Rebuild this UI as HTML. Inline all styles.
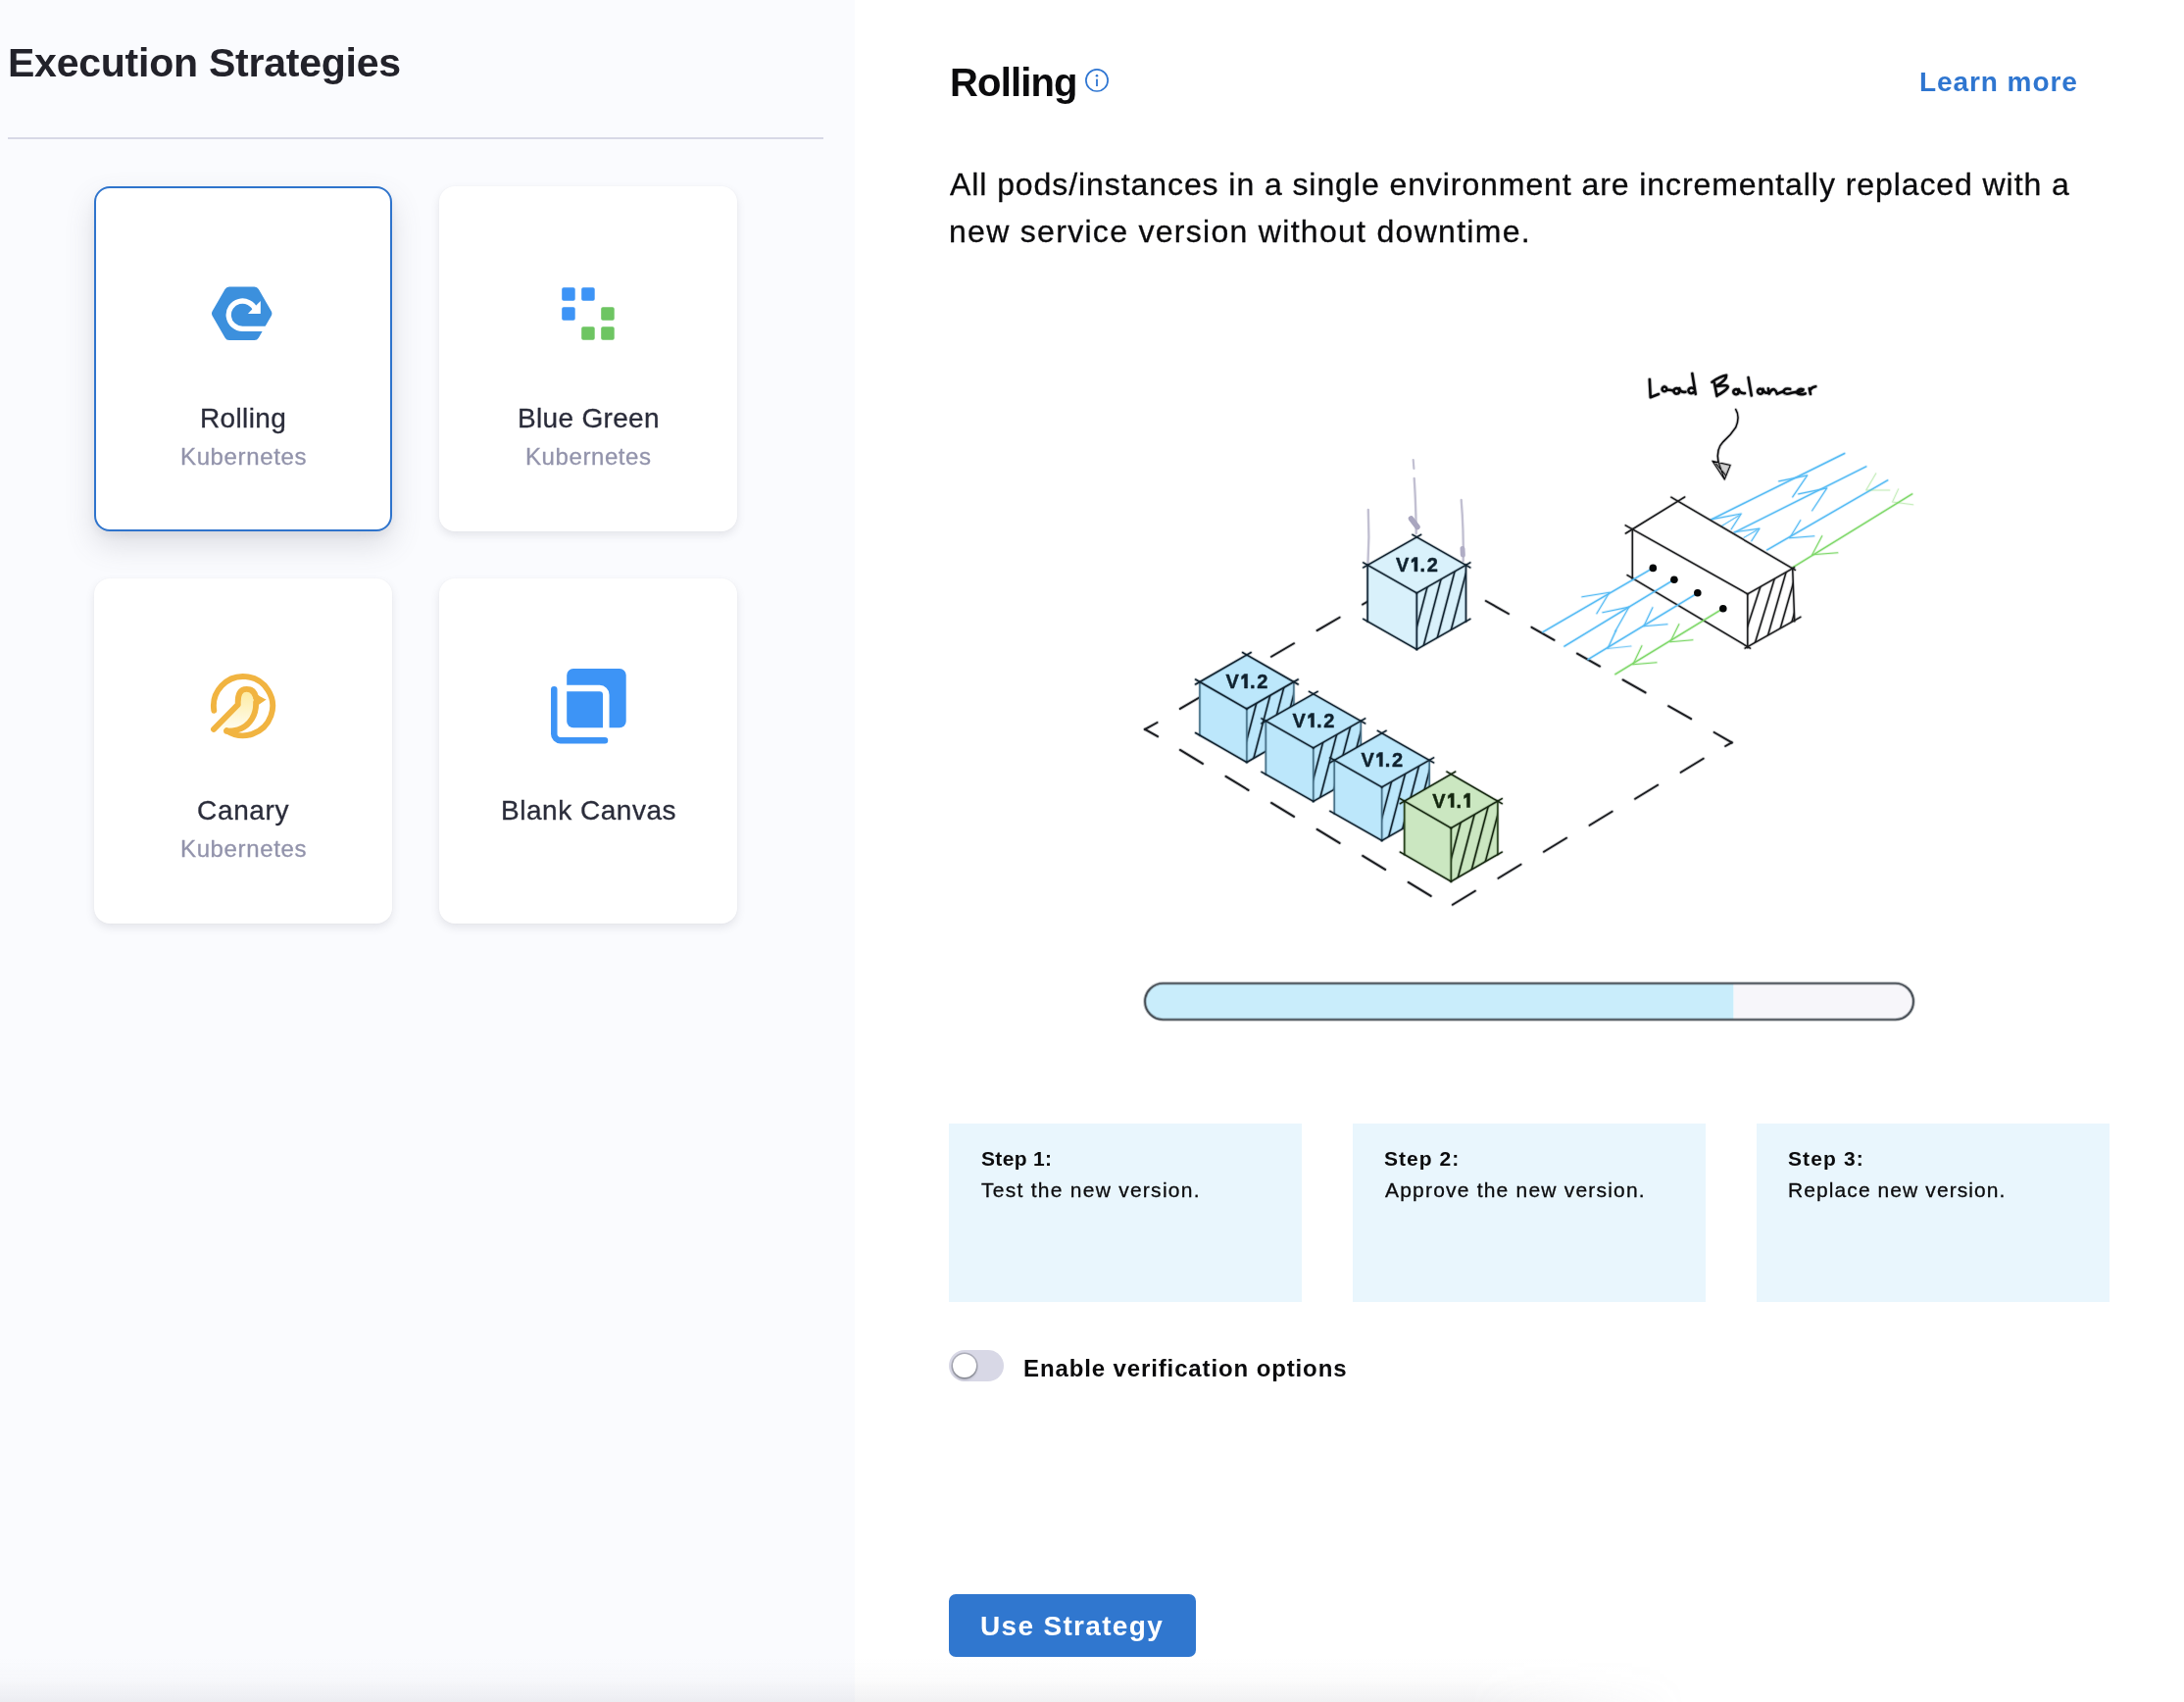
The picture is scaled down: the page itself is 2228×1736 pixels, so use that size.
<!DOCTYPE html>
<html lang="en"><head><meta charset="utf-8"><title>Execution Strategies</title>
<style>
html,body{margin:0;padding:0;}
body{width:2228px;height:1736px;position:relative;overflow:hidden;background:#ffffff;font-family:"Liberation Sans",sans-serif;}
.t{position:absolute;white-space:nowrap;font-family:"Liberation Sans",sans-serif;will-change:transform;}
.left{position:absolute;left:0;top:0;width:872px;height:1736px;background:#fafbfe;}
.hr{position:absolute;left:8px;top:140px;width:832px;height:2px;background:#d7d8e6;}
.card{position:absolute;width:304px;height:352px;background:#fff;border-radius:16px;box-sizing:border-box;
  box-shadow:0 0 2px rgba(40,41,61,.04),0 4px 8px rgba(96,97,112,.14);}
.card.sel{border:2px solid #2f74cc;box-shadow:0 4px 8px rgba(40,41,61,.05),0 14px 30px rgba(96,97,112,.19);}
.step{position:absolute;top:1146px;width:360px;height:182px;background:#e9f6fd;}
.toggle{position:absolute;left:968px;top:1377px;width:56px;height:32px;border-radius:16px;background:#d8d8e6;}
.knob{position:absolute;left:4px;top:4px;width:24px;height:24px;border-radius:50%;background:#fff;box-shadow:0 0 0 1.6px rgba(16,22,26,.22),0 2px 2.5px rgba(16,22,26,.28);}
.btn{position:absolute;left:968px;top:1626px;width:252px;height:64px;border-radius:7px;background:#3077cf;}
svg{position:absolute;left:0;top:0;}
.bot{position:absolute;left:0;top:1690px;width:2228px;height:46px;background:linear-gradient(to bottom,rgba(120,120,135,0) 0%,rgba(120,120,135,.025) 50%,rgba(120,120,135,.10) 100%);
  -webkit-mask-image:linear-gradient(to right,#000 0,#000 1500px,transparent 1720px);mask-image:linear-gradient(to right,#000 0,#000 1500px,transparent 1720px);}
</style></head><body>
<div class="left"></div>

<div class="t" style="left:7.70px;top:38.69px;font-size:41px;font-weight:700;color:#22222a;letter-spacing:-0.235px;line-height:51px;">Execution Strategies</div>
<div class="hr"></div>
<div class="card sel" style="left:96px;top:190px"></div>
<div class="card" style="left:448px;top:190px"></div>
<div class="card" style="left:96px;top:590px"></div>
<div class="card" style="left:448px;top:590px"></div>
<div class="t" style="left:204.00px;top:408.60px;font-size:28px;font-weight:400;color:#2a2c3a;letter-spacing:0.362px;line-height:35px;-webkit-text-stroke:0.3px currentColor;">Rolling</div>
<div class="t" style="left:183.70px;top:451.48px;font-size:24px;font-weight:400;color:#9293ab;letter-spacing:0.627px;line-height:30px;-webkit-text-stroke:0.3px currentColor;">Kubernetes</div>
<div class="t" style="left:527.80px;top:408.60px;font-size:28px;font-weight:400;color:#2a2c3a;letter-spacing:0.326px;line-height:35px;-webkit-text-stroke:0.3px currentColor;">Blue Green</div>
<div class="t" style="left:535.90px;top:451.48px;font-size:24px;font-weight:400;color:#9293ab;letter-spacing:0.583px;line-height:30px;-webkit-text-stroke:0.3px currentColor;">Kubernetes</div>
<div class="t" style="left:200.50px;top:808.80px;font-size:28px;font-weight:400;color:#2a2c3a;letter-spacing:0.668px;line-height:35px;-webkit-text-stroke:0.3px currentColor;">Canary</div>
<div class="t" style="left:183.70px;top:851.38px;font-size:24px;font-weight:400;color:#9293ab;letter-spacing:0.627px;line-height:30px;-webkit-text-stroke:0.3px currentColor;">Kubernetes</div>
<div class="t" style="left:510.60px;top:808.80px;font-size:28px;font-weight:400;color:#2a2c3a;letter-spacing:0.531px;line-height:35px;-webkit-text-stroke:0.3px currentColor;">Blank Canvas</div>
<div class="t" style="left:968.60px;top:58.84px;font-size:40px;font-weight:700;color:#0b0b0d;letter-spacing:-0.832px;line-height:50px;">Rolling</div>
<div class="t" style="left:1957.80px;top:66.40px;font-size:28px;font-weight:700;color:#2f76d0;letter-spacing:0.931px;line-height:35px;">Learn more</div>
<div class="t" style="left:968.70px;top:167.81px;font-size:32px;font-weight:400;color:#0b0b0d;letter-spacing:0.923px;line-height:40px;-webkit-text-stroke:0.3px currentColor;">All pods/instances in a single environment are incrementally replaced with a</div>
<div class="t" style="left:968.00px;top:215.61px;font-size:32px;font-weight:400;color:#0b0b0d;letter-spacing:1.297px;line-height:40px;-webkit-text-stroke:0.3px currentColor;">new service version without downtime.</div>
<div class="step" style="left:968px"></div>
<div class="t" style="left:1000.70px;top:1169.22px;font-size:21px;font-weight:700;color:#0b0b0d;letter-spacing:0.347px;line-height:26px;">Step 1:</div>
<div class="t" style="left:1001.20px;top:1201.32px;font-size:21px;font-weight:400;color:#0b0b0d;letter-spacing:1.263px;line-height:26px;-webkit-text-stroke:0.3px currentColor;">Test the new version.</div>
<div class="step" style="left:1380px"></div>
<div class="t" style="left:1412.10px;top:1169.22px;font-size:21px;font-weight:700;color:#0b0b0d;letter-spacing:1.047px;line-height:26px;">Step 2:</div>
<div class="t" style="left:1412.90px;top:1201.32px;font-size:21px;font-weight:400;color:#0b0b0d;letter-spacing:1.203px;line-height:26px;-webkit-text-stroke:0.3px currentColor;">Approve the new version.</div>
<div class="step" style="left:1792px"></div>
<div class="t" style="left:1823.90px;top:1169.22px;font-size:21px;font-weight:700;color:#0b0b0d;letter-spacing:1.113px;line-height:26px;">Step 3:</div>
<div class="t" style="left:1823.60px;top:1201.32px;font-size:21px;font-weight:400;color:#0b0b0d;letter-spacing:1.088px;line-height:26px;-webkit-text-stroke:0.3px currentColor;">Replace new version.</div>
<div class="toggle"><div class="knob"></div></div>
<div class="t" style="left:1043.80px;top:1380.68px;font-size:24px;font-weight:700;color:#0b0b0d;letter-spacing:0.878px;line-height:30px;">Enable verification options</div>
<div class="btn"></div>
<div class="t" style="left:1000.10px;top:1640.50px;font-size:28px;font-weight:700;color:#ffffff;letter-spacing:1.326px;line-height:35px;">Use Strategy</div>
<div class="bot"></div>
<svg width="2228" height="1736" viewBox="0 0 2228 1736">
<defs>
<linearGradient id="cg" x1="0" y1="0" x2="0" y2="1"><stop offset="0" stop-color="#fdeb9e"/><stop offset="1" stop-color="#fffdf3"/></linearGradient>
<filter id="soft" filterUnits="userSpaceOnUse" x="1100" y="340" width="920" height="640"><feGaussianBlur stdDeviation="0.8"/></filter>
<filter id="soft2" filterUnits="userSpaceOnUse" x="1150" y="990" width="820" height="64"><feGaussianBlur stdDeviation="0.8"/></filter>
</defs>
<polygon points="272.37,319.70 259.53,341.93 233.87,341.93 221.03,319.70 233.87,297.47 259.53,297.47" fill="#3c90dd" stroke="#3c90dd" stroke-width="10.0" stroke-linejoin="round"/>
<path d="M260.57,315.88 A14.2,14.2 0 1 0 247.40,335.40 H284" fill="none" stroke="#fff" stroke-width="5.3"/>
<polygon points="265.8,307.0 265.8,319.95 252.9,319.95" fill="#fff"/>
<rect x="573.2" y="293.2" width="13.5" height="13.5" rx="1.8" fill="#3d94f6"/>
<rect x="593.2" y="293.2" width="13.5" height="13.5" rx="1.8" fill="#3d94f6"/>
<rect x="573.2" y="313.2" width="13.5" height="13.5" rx="1.8" fill="#3d94f6"/>
<rect x="613.2" y="313.2" width="13.5" height="13.5" rx="1.8" fill="#6ec562"/>
<rect x="593.2" y="333.2" width="13.5" height="13.5" rx="1.8" fill="#6ec562"/>
<rect x="613.2" y="333.2" width="13.5" height="13.5" rx="1.8" fill="#6ec562"/>
<g transform="translate(190,670)" fill="none" stroke="#f1b441" stroke-width="5.9" stroke-linecap="round" stroke-linejoin="round">
<path d="M52.8,48.6 C52.2,38 55,32.9 61.7,32.9 C67,32.9 70.9,38 70.9,47 C71,58 66,70 52.9,74.2 C49,75.4 45,75.8 41.1,75.8 L28.0,73.9 Z" fill="url(#cg)" stroke="none"/>
<path d="M28.30,54.81 A30.1,30.1 0 1 1 41.37,75.17"/>
<path d="M28.0,73.9 L52.8,48.6 C52.2,38 55,32.9 61.7,32.9 C66.5,32.9 69.5,36 70.6,40"/>
<path d="M71.1,46.5 C71.6,58 66,70 52.9,74.2 C49,75.4 45,75.8 41.1,75.8"/>
<path d="M68.4,33.2 C71,38 75,40.5 81.7,43.5 L74.0,48.8 L68.2,43 Z" fill="#f1b441" stroke="none"/>
</g>
<g transform="translate(540,670)">
<rect x="38.2" y="12.05" width="60.5" height="60.25" rx="6.6" fill="#3d94f6"/>
<path d="M36,32.05 H71.7 a6.6,6.6 0 0 1 6.6,6.6 V74" fill="none" stroke="#fff" stroke-width="6.5"/>
<path d="M25.27,33.2 V78.7 a6.5,6.5 0 0 0 6.5,6.5 H77" fill="none" stroke="#3d94f6" stroke-width="6.5" stroke-linecap="round"/>
</g>
<circle cx="1119" cy="81.9" r="11.1" fill="none" stroke="#2f76d2" stroke-width="1.7"/>
<circle cx="1119" cy="77.3" r="1.3" fill="#2f76d2"/>
<rect x="1118.1" y="80.6" width="1.8" height="7.4" fill="#2f76d2"/>
<g stroke-linecap="round" stroke-linejoin="round">
<line x1="1515.9" y1="613.0" x2="1538.9" y2="626.0" stroke="#1a1c20" stroke-width="3.60" opacity="0.200"/>
<line x1="1515.9" y1="613.0" x2="1538.9" y2="626.0" stroke="#1a1c20" stroke-width="1.90" opacity="1"/>
<line x1="1562.5" y1="639.8" x2="1585.5" y2="652.8" stroke="#1a1c20" stroke-width="3.60" opacity="0.200"/>
<line x1="1562.5" y1="639.8" x2="1585.5" y2="652.8" stroke="#1a1c20" stroke-width="1.90" opacity="1"/>
<line x1="1609.0" y1="666.6" x2="1632.0" y2="679.6" stroke="#1a1c20" stroke-width="3.60" opacity="0.200"/>
<line x1="1609.0" y1="666.6" x2="1632.0" y2="679.6" stroke="#1a1c20" stroke-width="1.90" opacity="1"/>
<line x1="1655.6" y1="693.4" x2="1678.6" y2="706.4" stroke="#1a1c20" stroke-width="3.60" opacity="0.200"/>
<line x1="1655.6" y1="693.4" x2="1678.6" y2="706.4" stroke="#1a1c20" stroke-width="1.90" opacity="1"/>
<line x1="1702.1" y1="720.2" x2="1725.1" y2="733.2" stroke="#1a1c20" stroke-width="3.60" opacity="0.200"/>
<line x1="1702.1" y1="720.2" x2="1725.1" y2="733.2" stroke="#1a1c20" stroke-width="1.90" opacity="1"/>
<line x1="1748.7" y1="747.0" x2="1766.7" y2="757.4" stroke="#1a1c20" stroke-width="3.60" opacity="0.200"/>
<line x1="1748.7" y1="747.0" x2="1766.7" y2="757.4" stroke="#1a1c20" stroke-width="1.90" opacity="1"/>
<line x1="1766.7" y1="757.4" x2="1760.2" y2="761.0" stroke="#1a1c20" stroke-width="3.60" opacity="0.200"/>
<line x1="1766.7" y1="757.4" x2="1760.2" y2="761.0" stroke="#1a1c20" stroke-width="1.90" opacity="1"/>
<line x1="1737.7" y1="773.8" x2="1714.7" y2="787.8" stroke="#1a1c20" stroke-width="3.60" opacity="0.200"/>
<line x1="1737.7" y1="773.8" x2="1714.7" y2="787.8" stroke="#1a1c20" stroke-width="1.90" opacity="1"/>
<line x1="1691.1" y1="800.8" x2="1668.1" y2="814.8" stroke="#1a1c20" stroke-width="3.60" opacity="0.200"/>
<line x1="1691.1" y1="800.8" x2="1668.1" y2="814.8" stroke="#1a1c20" stroke-width="1.90" opacity="1"/>
<line x1="1644.6" y1="827.8" x2="1621.6" y2="841.8" stroke="#1a1c20" stroke-width="3.60" opacity="0.200"/>
<line x1="1644.6" y1="827.8" x2="1621.6" y2="841.8" stroke="#1a1c20" stroke-width="1.90" opacity="1"/>
<line x1="1598.0" y1="854.8" x2="1575.0" y2="868.8" stroke="#1a1c20" stroke-width="3.60" opacity="0.200"/>
<line x1="1598.0" y1="854.8" x2="1575.0" y2="868.8" stroke="#1a1c20" stroke-width="1.90" opacity="1"/>
<line x1="1551.5" y1="881.8" x2="1528.5" y2="895.8" stroke="#1a1c20" stroke-width="3.60" opacity="0.200"/>
<line x1="1551.5" y1="881.8" x2="1528.5" y2="895.8" stroke="#1a1c20" stroke-width="1.90" opacity="1"/>
<line x1="1504.9" y1="908.8" x2="1481.9" y2="922.8" stroke="#1a1c20" stroke-width="3.60" opacity="0.200"/>
<line x1="1504.9" y1="908.8" x2="1481.9" y2="922.8" stroke="#1a1c20" stroke-width="1.90" opacity="1"/>
<line x1="1203.9" y1="764.9" x2="1226.9" y2="778.9" stroke="#1a1c20" stroke-width="3.60" opacity="0.200"/>
<line x1="1203.9" y1="764.9" x2="1226.9" y2="778.9" stroke="#1a1c20" stroke-width="1.90" opacity="1"/>
<line x1="1250.5" y1="791.9" x2="1273.5" y2="805.9" stroke="#1a1c20" stroke-width="3.60" opacity="0.200"/>
<line x1="1250.5" y1="791.9" x2="1273.5" y2="805.9" stroke="#1a1c20" stroke-width="1.90" opacity="1"/>
<line x1="1297.0" y1="818.9" x2="1320.0" y2="832.9" stroke="#1a1c20" stroke-width="3.60" opacity="0.200"/>
<line x1="1297.0" y1="818.9" x2="1320.0" y2="832.9" stroke="#1a1c20" stroke-width="1.90" opacity="1"/>
<line x1="1343.6" y1="845.9" x2="1366.6" y2="859.9" stroke="#1a1c20" stroke-width="3.60" opacity="0.200"/>
<line x1="1343.6" y1="845.9" x2="1366.6" y2="859.9" stroke="#1a1c20" stroke-width="1.90" opacity="1"/>
<line x1="1390.1" y1="872.9" x2="1413.1" y2="886.9" stroke="#1a1c20" stroke-width="3.60" opacity="0.200"/>
<line x1="1390.1" y1="872.9" x2="1413.1" y2="886.9" stroke="#1a1c20" stroke-width="1.90" opacity="1"/>
<line x1="1436.7" y1="899.9" x2="1459.7" y2="913.9" stroke="#1a1c20" stroke-width="3.60" opacity="0.200"/>
<line x1="1436.7" y1="899.9" x2="1459.7" y2="913.9" stroke="#1a1c20" stroke-width="1.90" opacity="1"/>
<line x1="1203.9" y1="722.9" x2="1226.9" y2="709.5" stroke="#1a1c20" stroke-width="3.60" opacity="0.200"/>
<line x1="1203.9" y1="722.9" x2="1226.9" y2="709.5" stroke="#1a1c20" stroke-width="1.90" opacity="1"/>
<line x1="1250.5" y1="696.3" x2="1273.5" y2="682.9" stroke="#1a1c20" stroke-width="3.60" opacity="0.200"/>
<line x1="1250.5" y1="696.3" x2="1273.5" y2="682.9" stroke="#1a1c20" stroke-width="1.90" opacity="1"/>
<line x1="1297.0" y1="669.7" x2="1320.0" y2="656.3" stroke="#1a1c20" stroke-width="3.60" opacity="0.200"/>
<line x1="1297.0" y1="669.7" x2="1320.0" y2="656.3" stroke="#1a1c20" stroke-width="1.90" opacity="1"/>
<line x1="1343.6" y1="643.1" x2="1366.6" y2="629.7" stroke="#1a1c20" stroke-width="3.60" opacity="0.200"/>
<line x1="1343.6" y1="643.1" x2="1366.6" y2="629.7" stroke="#1a1c20" stroke-width="1.90" opacity="1"/>
<line x1="1390.1" y1="616.5" x2="1413.1" y2="603.1" stroke="#1a1c20" stroke-width="3.60" opacity="0.200"/>
<line x1="1390.1" y1="616.5" x2="1413.1" y2="603.1" stroke="#1a1c20" stroke-width="1.90" opacity="1"/>
<line x1="1168.0" y1="743.9" x2="1180.5" y2="737.0" stroke="#1a1c20" stroke-width="3.60" opacity="0.200"/>
<line x1="1168.0" y1="743.9" x2="1180.5" y2="737.0" stroke="#1a1c20" stroke-width="1.90" opacity="1"/>
<line x1="1168.0" y1="743.9" x2="1181.0" y2="751.2" stroke="#1a1c20" stroke-width="3.60" opacity="0.200"/>
<line x1="1168.0" y1="743.9" x2="1181.0" y2="751.2" stroke="#1a1c20" stroke-width="1.90" opacity="1"/>
<line x1="1745.8" y1="529.8" x2="1881.7" y2="462.5" stroke="#55bbf4" stroke-width="3.15" opacity="0.200"/>
<line x1="1745.8" y1="529.8" x2="1881.7" y2="462.5" stroke="#55bbf4" stroke-width="1.45" opacity="1"/>
<polyline points="1814.7,490.9 1843.7,484.9 1828.7,506.9" fill="none" stroke="#55bbf4" stroke-width="2.80" opacity="0.200"/>
<polyline points="1814.7,490.9 1843.7,484.9 1828.7,506.9" fill="none" stroke="#55bbf4" stroke-width="1.10" opacity="1"/>
<polyline points="1746.5,529.6 1776.3,524.0 1766.2,539.7" fill="none" stroke="#55bbf4" stroke-width="2.80" opacity="0.200"/>
<polyline points="1746.5,529.6 1776.3,524.0 1766.2,539.7" fill="none" stroke="#55bbf4" stroke-width="1.10" opacity="1"/>
<polyline points="1756.2,536.6 1774.5,525.5 1756.2,536.6" fill="none" stroke="#55bbf4" stroke-width="2.55" opacity="0.160"/>
<polyline points="1756.2,536.6 1774.5,525.5 1756.2,536.6" fill="none" stroke="#55bbf4" stroke-width="0.85" opacity="0.8"/>
<line x1="1769.8" y1="542.8" x2="1903.7" y2="475.9" stroke="#55bbf4" stroke-width="3.15" opacity="0.200"/>
<line x1="1769.8" y1="542.8" x2="1903.7" y2="475.9" stroke="#55bbf4" stroke-width="1.45" opacity="1"/>
<polyline points="1834.7,503.9 1863.7,497.9 1848.7,520.8" fill="none" stroke="#55bbf4" stroke-width="2.80" opacity="0.200"/>
<polyline points="1834.7,503.9 1863.7,497.9 1848.7,520.8" fill="none" stroke="#55bbf4" stroke-width="1.10" opacity="1"/>
<polyline points="1769.2,542.7 1794.9,539.1 1786.8,551.7" fill="none" stroke="#55bbf4" stroke-width="2.80" opacity="0.200"/>
<polyline points="1769.2,542.7 1794.9,539.1 1786.8,551.7" fill="none" stroke="#55bbf4" stroke-width="1.10" opacity="1"/>
<polyline points="1779.3,548.2 1792.5,540.6 1779.3,548.2" fill="none" stroke="#55bbf4" stroke-width="2.55" opacity="0.160"/>
<polyline points="1779.3,548.2 1792.5,540.6 1779.3,548.2" fill="none" stroke="#55bbf4" stroke-width="0.85" opacity="0.8"/>
<line x1="1802.8" y1="560.8" x2="1925.6" y2="489.9" stroke="#55bbf4" stroke-width="3.15" opacity="0.200"/>
<line x1="1802.8" y1="560.8" x2="1925.6" y2="489.9" stroke="#55bbf4" stroke-width="1.45" opacity="1"/>
<polyline points="1836.7,530.8 1825.7,548.8 1850.7,546.8" fill="none" stroke="#55bbf4" stroke-width="2.80" opacity="0.200"/>
<polyline points="1836.7,530.8 1825.7,548.8 1850.7,546.8" fill="none" stroke="#55bbf4" stroke-width="1.10" opacity="1"/>
<line x1="1828.7" y1="578.8" x2="1950.6" y2="503.9" stroke="#7fd86a" stroke-width="3.15" opacity="0.200"/>
<line x1="1828.7" y1="578.8" x2="1950.6" y2="503.9" stroke="#7fd86a" stroke-width="1.45" opacity="1"/>
<polyline points="1858.7,546.8 1848.7,565.8 1874.7,563.8" fill="none" stroke="#7fd86a" stroke-width="2.80" opacity="0.200"/>
<polyline points="1858.7,546.8 1848.7,565.8 1874.7,563.8" fill="none" stroke="#7fd86a" stroke-width="1.10" opacity="1"/>
<polyline points="1913.7,482.9 1903.7,499.9 1927.6,499.9" fill="none" stroke="#7fd86a" stroke-width="2.75" opacity="0.080"/>
<polyline points="1913.7,482.9 1903.7,499.9 1927.6,499.9" fill="none" stroke="#7fd86a" stroke-width="1.05" opacity="0.4"/>
<polyline points="1936.6,498.9 1930.6,511.9 1951.6,514.8" fill="none" stroke="#7fd86a" stroke-width="2.75" opacity="0.080"/>
<polyline points="1936.6,498.9 1930.6,511.9 1951.6,514.8" fill="none" stroke="#7fd86a" stroke-width="1.05" opacity="0.4"/>
<path d="M1395.8,520 Q1397.2,548 1395.4,576" fill="none" stroke="#c2c0d2" stroke-width="2.4"/>
<path d="M1442.7,488 Q1444.5,515 1444.7,544" fill="none" stroke="#c2c0d2" stroke-width="2.4"/>
<path d="M1441.7,469 L1442.4,478" fill="none" stroke="#c2c0d2" stroke-width="2.2"/>
<path d="M1439.5,529 L1446,537.5" fill="none" stroke="#a9a6bf" stroke-width="5.5"/>
<path d="M1490.7,510 Q1493.2,540 1492.7,572" fill="none" stroke="#c2c0d2" stroke-width="2.4"/>
<path d="M1492,559.5 L1492.3,566" fill="none" stroke="#b0adc5" stroke-width="5"/>
<polygon points="1445.3,547.9 1495.5,576.4 1495.5,633.9 1445.3,662.4 1395.1,633.9 1395.1,576.4" fill="#d9f1fb" stroke="none"/>
<clipPath id="cf"><polygon points="1445.3,604.9 1495.5,576.4 1495.5,633.9 1445.3,662.4"/></clipPath>
<g clip-path="url(#cf)">
<line x1="1437.0" y1="671.4" x2="1463.2" y2="571.4" stroke="#10222f" stroke-width="3.20" opacity="0.200"/>
<line x1="1437.0" y1="671.4" x2="1463.2" y2="571.4" stroke="#10222f" stroke-width="1.50" opacity="1"/>
<line x1="1451.0" y1="663.4" x2="1477.2" y2="563.4" stroke="#10222f" stroke-width="3.20" opacity="0.200"/>
<line x1="1451.0" y1="663.4" x2="1477.2" y2="563.4" stroke="#10222f" stroke-width="1.50" opacity="1"/>
<line x1="1465.0" y1="655.5" x2="1491.2" y2="555.5" stroke="#10222f" stroke-width="3.20" opacity="0.200"/>
<line x1="1465.0" y1="655.5" x2="1491.2" y2="555.5" stroke="#10222f" stroke-width="1.50" opacity="1"/>
<line x1="1479.0" y1="647.5" x2="1505.2" y2="547.5" stroke="#10222f" stroke-width="3.20" opacity="0.200"/>
<line x1="1479.0" y1="647.5" x2="1505.2" y2="547.5" stroke="#10222f" stroke-width="1.50" opacity="1"/>
</g>
<line x1="1395.1" y1="576.4" x2="1395.1" y2="633.9" stroke="#15293a" stroke-width="3.30" opacity="0.200"/>
<line x1="1395.1" y1="576.4" x2="1395.1" y2="633.9" stroke="#15293a" stroke-width="1.60" opacity="1"/>
<line x1="1445.3" y1="604.9" x2="1445.3" y2="662.4" stroke="#15293a" stroke-width="3.30" opacity="0.200"/>
<line x1="1445.3" y1="604.9" x2="1445.3" y2="662.4" stroke="#15293a" stroke-width="1.60" opacity="1"/>
<line x1="1495.5" y1="576.4" x2="1495.5" y2="633.9" stroke="#15293a" stroke-width="3.30" opacity="0.200"/>
<line x1="1495.5" y1="576.4" x2="1495.5" y2="633.9" stroke="#15293a" stroke-width="1.60" opacity="1"/>
<line x1="1441.0" y1="545.4" x2="1499.8" y2="578.9" stroke="#10222f" stroke-width="3.20" opacity="0.200"/>
<line x1="1441.0" y1="545.4" x2="1499.8" y2="578.9" stroke="#10222f" stroke-width="1.50" opacity="1"/>
<line x1="1499.8" y1="573.9" x2="1445.3" y2="604.9" stroke="#10222f" stroke-width="3.20" opacity="0.200"/>
<line x1="1499.8" y1="573.9" x2="1445.3" y2="604.9" stroke="#10222f" stroke-width="1.50" opacity="1"/>
<line x1="1445.3" y1="604.9" x2="1390.8" y2="573.9" stroke="#10222f" stroke-width="3.20" opacity="0.200"/>
<line x1="1445.3" y1="604.9" x2="1390.8" y2="573.9" stroke="#10222f" stroke-width="1.50" opacity="1"/>
<line x1="1390.8" y1="578.9" x2="1449.6" y2="545.4" stroke="#10222f" stroke-width="3.20" opacity="0.200"/>
<line x1="1390.8" y1="578.9" x2="1449.6" y2="545.4" stroke="#10222f" stroke-width="1.50" opacity="1"/>
<line x1="1390.8" y1="631.4" x2="1445.3" y2="662.4" stroke="#10222f" stroke-width="3.20" opacity="0.200"/>
<line x1="1390.8" y1="631.4" x2="1445.3" y2="662.4" stroke="#10222f" stroke-width="1.50" opacity="1"/>
<line x1="1445.3" y1="662.4" x2="1499.8" y2="631.4" stroke="#10222f" stroke-width="3.20" opacity="0.200"/>
<line x1="1445.3" y1="662.4" x2="1499.8" y2="631.4" stroke="#10222f" stroke-width="1.50" opacity="1"/>
<text x="1424.00" y="582.80" font-family='"Liberation Sans", sans-serif' font-size="20" font-weight="700" fill="#10222f" stroke="#10222f" stroke-width="0.45">V</text>
<polygon points="1443.00,568.50 1446.00,568.50 1446.00,582.80 1442.90,582.80 1442.90,572.20 1440.00,573.90 1440.00,571.00" fill="#10222f" stroke="#10222f" stroke-width="0.45"/>
<text x="1448.40" y="582.80" font-family='"Liberation Sans", sans-serif' font-size="20" font-weight="700" fill="#10222f" stroke="#10222f" stroke-width="0.45">.</text>
<text x="1455.70" y="582.80" font-family='"Liberation Sans", sans-serif' font-size="20" font-weight="700" fill="#10222f" stroke="#10222f" stroke-width="0.45">2</text>
<polygon points="1271.9,668.0 1319.9,695.5 1319.9,750.0 1271.9,777.5 1223.9,750.0 1223.9,695.5" fill="#bce7fb" stroke="none"/>
<clipPath id="c1"><polygon points="1271.9,723.0 1319.9,695.5 1319.9,750.0 1271.9,777.5"/></clipPath>
<g clip-path="url(#c1)">
<line x1="1263.6" y1="786.5" x2="1289.8" y2="686.5" stroke="#10222f" stroke-width="3.20" opacity="0.200"/>
<line x1="1263.6" y1="786.5" x2="1289.8" y2="686.5" stroke="#10222f" stroke-width="1.50" opacity="1"/>
<line x1="1277.6" y1="778.5" x2="1303.8" y2="678.5" stroke="#10222f" stroke-width="3.20" opacity="0.200"/>
<line x1="1277.6" y1="778.5" x2="1303.8" y2="678.5" stroke="#10222f" stroke-width="1.50" opacity="1"/>
<line x1="1291.6" y1="770.5" x2="1317.8" y2="670.5" stroke="#10222f" stroke-width="3.20" opacity="0.200"/>
<line x1="1291.6" y1="770.5" x2="1317.8" y2="670.5" stroke="#10222f" stroke-width="1.50" opacity="1"/>
<line x1="1305.6" y1="762.4" x2="1331.8" y2="662.4" stroke="#10222f" stroke-width="3.20" opacity="0.200"/>
<line x1="1305.6" y1="762.4" x2="1331.8" y2="662.4" stroke="#10222f" stroke-width="1.50" opacity="1"/>
</g>
<line x1="1223.9" y1="695.5" x2="1223.9" y2="750.0" stroke="#4a748b" stroke-width="3.30" opacity="0.200"/>
<line x1="1223.9" y1="695.5" x2="1223.9" y2="750.0" stroke="#4a748b" stroke-width="1.60" opacity="1"/>
<line x1="1271.9" y1="723.0" x2="1271.9" y2="777.5" stroke="#4a748b" stroke-width="3.30" opacity="0.200"/>
<line x1="1271.9" y1="723.0" x2="1271.9" y2="777.5" stroke="#4a748b" stroke-width="1.60" opacity="1"/>
<line x1="1319.9" y1="695.5" x2="1319.9" y2="750.0" stroke="#4a748b" stroke-width="3.30" opacity="0.200"/>
<line x1="1319.9" y1="695.5" x2="1319.9" y2="750.0" stroke="#4a748b" stroke-width="1.60" opacity="1"/>
<line x1="1267.6" y1="665.5" x2="1324.2" y2="698.0" stroke="#10222f" stroke-width="3.20" opacity="0.200"/>
<line x1="1267.6" y1="665.5" x2="1324.2" y2="698.0" stroke="#10222f" stroke-width="1.50" opacity="1"/>
<line x1="1324.2" y1="693.0" x2="1271.9" y2="723.0" stroke="#10222f" stroke-width="3.20" opacity="0.200"/>
<line x1="1324.2" y1="693.0" x2="1271.9" y2="723.0" stroke="#10222f" stroke-width="1.50" opacity="1"/>
<line x1="1271.9" y1="723.0" x2="1219.6" y2="693.0" stroke="#10222f" stroke-width="3.20" opacity="0.200"/>
<line x1="1271.9" y1="723.0" x2="1219.6" y2="693.0" stroke="#10222f" stroke-width="1.50" opacity="1"/>
<line x1="1219.6" y1="698.0" x2="1276.2" y2="665.5" stroke="#10222f" stroke-width="3.20" opacity="0.200"/>
<line x1="1219.6" y1="698.0" x2="1276.2" y2="665.5" stroke="#10222f" stroke-width="1.50" opacity="1"/>
<line x1="1219.6" y1="747.5" x2="1271.9" y2="777.5" stroke="#10222f" stroke-width="3.20" opacity="0.200"/>
<line x1="1219.6" y1="747.5" x2="1271.9" y2="777.5" stroke="#10222f" stroke-width="1.50" opacity="1"/>
<line x1="1271.9" y1="777.5" x2="1324.2" y2="747.5" stroke="#10222f" stroke-width="3.20" opacity="0.200"/>
<line x1="1271.9" y1="777.5" x2="1324.2" y2="747.5" stroke="#10222f" stroke-width="1.50" opacity="1"/>
<text x="1250.60" y="701.90" font-family='"Liberation Sans", sans-serif' font-size="20" font-weight="700" fill="#10222f" stroke="#10222f" stroke-width="0.45">V</text>
<polygon points="1269.60,687.60 1272.60,687.60 1272.60,701.90 1269.50,701.90 1269.50,691.30 1266.60,693.00 1266.60,690.10" fill="#10222f" stroke="#10222f" stroke-width="0.45"/>
<text x="1275.00" y="701.90" font-family='"Liberation Sans", sans-serif' font-size="20" font-weight="700" fill="#10222f" stroke="#10222f" stroke-width="0.45">.</text>
<text x="1282.30" y="701.90" font-family='"Liberation Sans", sans-serif' font-size="20" font-weight="700" fill="#10222f" stroke="#10222f" stroke-width="0.45">2</text>
<polygon points="1339.8,707.9 1388.3,735.4 1388.3,789.9 1339.8,817.4 1291.3,789.9 1291.3,735.4" fill="#bce7fb" stroke="none"/>
<clipPath id="c2"><polygon points="1339.8,762.9 1388.3,735.4 1388.3,789.9 1339.8,817.4"/></clipPath>
<g clip-path="url(#c2)">
<line x1="1331.5" y1="826.4" x2="1357.7" y2="726.4" stroke="#10222f" stroke-width="3.20" opacity="0.200"/>
<line x1="1331.5" y1="826.4" x2="1357.7" y2="726.4" stroke="#10222f" stroke-width="1.50" opacity="1"/>
<line x1="1345.5" y1="818.4" x2="1371.7" y2="718.4" stroke="#10222f" stroke-width="3.20" opacity="0.200"/>
<line x1="1345.5" y1="818.4" x2="1371.7" y2="718.4" stroke="#10222f" stroke-width="1.50" opacity="1"/>
<line x1="1359.5" y1="810.5" x2="1385.7" y2="710.5" stroke="#10222f" stroke-width="3.20" opacity="0.200"/>
<line x1="1359.5" y1="810.5" x2="1385.7" y2="710.5" stroke="#10222f" stroke-width="1.50" opacity="1"/>
<line x1="1373.5" y1="802.6" x2="1399.7" y2="702.6" stroke="#10222f" stroke-width="3.20" opacity="0.200"/>
<line x1="1373.5" y1="802.6" x2="1399.7" y2="702.6" stroke="#10222f" stroke-width="1.50" opacity="1"/>
</g>
<line x1="1291.3" y1="735.4" x2="1291.3" y2="789.9" stroke="#4a748b" stroke-width="3.30" opacity="0.200"/>
<line x1="1291.3" y1="735.4" x2="1291.3" y2="789.9" stroke="#4a748b" stroke-width="1.60" opacity="1"/>
<line x1="1339.8" y1="762.9" x2="1339.8" y2="817.4" stroke="#4a748b" stroke-width="3.30" opacity="0.200"/>
<line x1="1339.8" y1="762.9" x2="1339.8" y2="817.4" stroke="#4a748b" stroke-width="1.60" opacity="1"/>
<line x1="1388.3" y1="735.4" x2="1388.3" y2="789.9" stroke="#4a748b" stroke-width="3.30" opacity="0.200"/>
<line x1="1388.3" y1="735.4" x2="1388.3" y2="789.9" stroke="#4a748b" stroke-width="1.60" opacity="1"/>
<line x1="1335.5" y1="705.4" x2="1392.6" y2="737.9" stroke="#10222f" stroke-width="3.20" opacity="0.200"/>
<line x1="1335.5" y1="705.4" x2="1392.6" y2="737.9" stroke="#10222f" stroke-width="1.50" opacity="1"/>
<line x1="1392.6" y1="732.9" x2="1339.8" y2="762.9" stroke="#10222f" stroke-width="3.20" opacity="0.200"/>
<line x1="1392.6" y1="732.9" x2="1339.8" y2="762.9" stroke="#10222f" stroke-width="1.50" opacity="1"/>
<line x1="1339.8" y1="762.9" x2="1287.0" y2="732.9" stroke="#10222f" stroke-width="3.20" opacity="0.200"/>
<line x1="1339.8" y1="762.9" x2="1287.0" y2="732.9" stroke="#10222f" stroke-width="1.50" opacity="1"/>
<line x1="1287.0" y1="737.9" x2="1344.1" y2="705.4" stroke="#10222f" stroke-width="3.20" opacity="0.200"/>
<line x1="1287.0" y1="737.9" x2="1344.1" y2="705.4" stroke="#10222f" stroke-width="1.50" opacity="1"/>
<line x1="1287.0" y1="787.4" x2="1339.8" y2="817.4" stroke="#10222f" stroke-width="3.20" opacity="0.200"/>
<line x1="1287.0" y1="787.4" x2="1339.8" y2="817.4" stroke="#10222f" stroke-width="1.50" opacity="1"/>
<line x1="1339.8" y1="817.4" x2="1392.6" y2="787.4" stroke="#10222f" stroke-width="3.20" opacity="0.200"/>
<line x1="1339.8" y1="817.4" x2="1392.6" y2="787.4" stroke="#10222f" stroke-width="1.50" opacity="1"/>
<text x="1318.50" y="741.80" font-family='"Liberation Sans", sans-serif' font-size="20" font-weight="700" fill="#10222f" stroke="#10222f" stroke-width="0.45">V</text>
<polygon points="1337.50,727.50 1340.50,727.50 1340.50,741.80 1337.40,741.80 1337.40,731.20 1334.50,732.90 1334.50,730.00" fill="#10222f" stroke="#10222f" stroke-width="0.45"/>
<text x="1342.90" y="741.80" font-family='"Liberation Sans", sans-serif' font-size="20" font-weight="700" fill="#10222f" stroke="#10222f" stroke-width="0.45">.</text>
<text x="1350.20" y="741.80" font-family='"Liberation Sans", sans-serif' font-size="20" font-weight="700" fill="#10222f" stroke="#10222f" stroke-width="0.45">2</text>
<polygon points="1409.7,747.9 1458.2,775.4 1458.2,829.9 1409.7,857.4 1361.2,829.9 1361.2,775.4" fill="#bce7fb" stroke="none"/>
<clipPath id="c3"><polygon points="1409.7,802.9 1458.2,775.4 1458.2,829.9 1409.7,857.4"/></clipPath>
<g clip-path="url(#c3)">
<line x1="1401.4" y1="866.4" x2="1427.6" y2="766.4" stroke="#10222f" stroke-width="3.20" opacity="0.200"/>
<line x1="1401.4" y1="866.4" x2="1427.6" y2="766.4" stroke="#10222f" stroke-width="1.50" opacity="1"/>
<line x1="1415.4" y1="858.4" x2="1441.6" y2="758.4" stroke="#10222f" stroke-width="3.20" opacity="0.200"/>
<line x1="1415.4" y1="858.4" x2="1441.6" y2="758.4" stroke="#10222f" stroke-width="1.50" opacity="1"/>
<line x1="1429.4" y1="850.5" x2="1455.6" y2="750.5" stroke="#10222f" stroke-width="3.20" opacity="0.200"/>
<line x1="1429.4" y1="850.5" x2="1455.6" y2="750.5" stroke="#10222f" stroke-width="1.50" opacity="1"/>
<line x1="1443.4" y1="842.6" x2="1469.6" y2="742.6" stroke="#10222f" stroke-width="3.20" opacity="0.200"/>
<line x1="1443.4" y1="842.6" x2="1469.6" y2="742.6" stroke="#10222f" stroke-width="1.50" opacity="1"/>
</g>
<line x1="1361.2" y1="775.4" x2="1361.2" y2="829.9" stroke="#4a748b" stroke-width="3.30" opacity="0.200"/>
<line x1="1361.2" y1="775.4" x2="1361.2" y2="829.9" stroke="#4a748b" stroke-width="1.60" opacity="1"/>
<line x1="1409.7" y1="802.9" x2="1409.7" y2="857.4" stroke="#4a748b" stroke-width="3.30" opacity="0.200"/>
<line x1="1409.7" y1="802.9" x2="1409.7" y2="857.4" stroke="#4a748b" stroke-width="1.60" opacity="1"/>
<line x1="1458.2" y1="775.4" x2="1458.2" y2="829.9" stroke="#4a748b" stroke-width="3.30" opacity="0.200"/>
<line x1="1458.2" y1="775.4" x2="1458.2" y2="829.9" stroke="#4a748b" stroke-width="1.60" opacity="1"/>
<line x1="1405.4" y1="745.4" x2="1462.5" y2="777.9" stroke="#10222f" stroke-width="3.20" opacity="0.200"/>
<line x1="1405.4" y1="745.4" x2="1462.5" y2="777.9" stroke="#10222f" stroke-width="1.50" opacity="1"/>
<line x1="1462.5" y1="772.9" x2="1409.7" y2="802.9" stroke="#10222f" stroke-width="3.20" opacity="0.200"/>
<line x1="1462.5" y1="772.9" x2="1409.7" y2="802.9" stroke="#10222f" stroke-width="1.50" opacity="1"/>
<line x1="1409.7" y1="802.9" x2="1356.9" y2="772.9" stroke="#10222f" stroke-width="3.20" opacity="0.200"/>
<line x1="1409.7" y1="802.9" x2="1356.9" y2="772.9" stroke="#10222f" stroke-width="1.50" opacity="1"/>
<line x1="1356.9" y1="777.9" x2="1414.0" y2="745.4" stroke="#10222f" stroke-width="3.20" opacity="0.200"/>
<line x1="1356.9" y1="777.9" x2="1414.0" y2="745.4" stroke="#10222f" stroke-width="1.50" opacity="1"/>
<line x1="1356.9" y1="827.4" x2="1409.7" y2="857.4" stroke="#10222f" stroke-width="3.20" opacity="0.200"/>
<line x1="1356.9" y1="827.4" x2="1409.7" y2="857.4" stroke="#10222f" stroke-width="1.50" opacity="1"/>
<line x1="1409.7" y1="857.4" x2="1462.5" y2="827.4" stroke="#10222f" stroke-width="3.20" opacity="0.200"/>
<line x1="1409.7" y1="857.4" x2="1462.5" y2="827.4" stroke="#10222f" stroke-width="1.50" opacity="1"/>
<text x="1388.40" y="781.80" font-family='"Liberation Sans", sans-serif' font-size="20" font-weight="700" fill="#10222f" stroke="#10222f" stroke-width="0.45">V</text>
<polygon points="1407.40,767.50 1410.40,767.50 1410.40,781.80 1407.30,781.80 1407.30,771.20 1404.40,772.90 1404.40,770.00" fill="#10222f" stroke="#10222f" stroke-width="0.45"/>
<text x="1412.80" y="781.80" font-family='"Liberation Sans", sans-serif' font-size="20" font-weight="700" fill="#10222f" stroke="#10222f" stroke-width="0.45">.</text>
<text x="1420.10" y="781.80" font-family='"Liberation Sans", sans-serif' font-size="20" font-weight="700" fill="#10222f" stroke="#10222f" stroke-width="0.45">2</text>
<polygon points="1480.3,789.6 1527.9,817.1 1527.9,871.6 1480.3,899.1 1432.7,871.6 1432.7,817.1" fill="#cbe7c1" stroke="none"/>
<clipPath id="c4"><polygon points="1480.3,844.6 1527.9,817.1 1527.9,871.6 1480.3,899.1"/></clipPath>
<g clip-path="url(#c4)">
<line x1="1472.0" y1="908.1" x2="1498.2" y2="808.1" stroke="#14260f" stroke-width="3.20" opacity="0.200"/>
<line x1="1472.0" y1="908.1" x2="1498.2" y2="808.1" stroke="#14260f" stroke-width="1.50" opacity="1"/>
<line x1="1486.0" y1="900.1" x2="1512.2" y2="800.1" stroke="#14260f" stroke-width="3.20" opacity="0.200"/>
<line x1="1486.0" y1="900.1" x2="1512.2" y2="800.1" stroke="#14260f" stroke-width="1.50" opacity="1"/>
<line x1="1500.0" y1="892.0" x2="1526.2" y2="792.0" stroke="#14260f" stroke-width="3.20" opacity="0.200"/>
<line x1="1500.0" y1="892.0" x2="1526.2" y2="792.0" stroke="#14260f" stroke-width="1.50" opacity="1"/>
<line x1="1514.0" y1="883.9" x2="1540.2" y2="783.9" stroke="#14260f" stroke-width="3.20" opacity="0.200"/>
<line x1="1514.0" y1="883.9" x2="1540.2" y2="783.9" stroke="#14260f" stroke-width="1.50" opacity="1"/>
</g>
<line x1="1432.7" y1="817.1" x2="1432.7" y2="871.6" stroke="#29441f" stroke-width="3.30" opacity="0.200"/>
<line x1="1432.7" y1="817.1" x2="1432.7" y2="871.6" stroke="#29441f" stroke-width="1.60" opacity="1"/>
<line x1="1480.3" y1="844.6" x2="1480.3" y2="899.1" stroke="#29441f" stroke-width="3.30" opacity="0.200"/>
<line x1="1480.3" y1="844.6" x2="1480.3" y2="899.1" stroke="#29441f" stroke-width="1.60" opacity="1"/>
<line x1="1527.9" y1="817.1" x2="1527.9" y2="871.6" stroke="#29441f" stroke-width="3.30" opacity="0.200"/>
<line x1="1527.9" y1="817.1" x2="1527.9" y2="871.6" stroke="#29441f" stroke-width="1.60" opacity="1"/>
<line x1="1476.0" y1="787.1" x2="1532.2" y2="819.6" stroke="#14260f" stroke-width="3.20" opacity="0.200"/>
<line x1="1476.0" y1="787.1" x2="1532.2" y2="819.6" stroke="#14260f" stroke-width="1.50" opacity="1"/>
<line x1="1532.2" y1="814.6" x2="1480.3" y2="844.6" stroke="#14260f" stroke-width="3.20" opacity="0.200"/>
<line x1="1532.2" y1="814.6" x2="1480.3" y2="844.6" stroke="#14260f" stroke-width="1.50" opacity="1"/>
<line x1="1480.3" y1="844.6" x2="1428.4" y2="814.6" stroke="#14260f" stroke-width="3.20" opacity="0.200"/>
<line x1="1480.3" y1="844.6" x2="1428.4" y2="814.6" stroke="#14260f" stroke-width="1.50" opacity="1"/>
<line x1="1428.4" y1="819.6" x2="1484.6" y2="787.1" stroke="#14260f" stroke-width="3.20" opacity="0.200"/>
<line x1="1428.4" y1="819.6" x2="1484.6" y2="787.1" stroke="#14260f" stroke-width="1.50" opacity="1"/>
<line x1="1428.4" y1="869.1" x2="1480.3" y2="899.1" stroke="#14260f" stroke-width="3.20" opacity="0.200"/>
<line x1="1428.4" y1="869.1" x2="1480.3" y2="899.1" stroke="#14260f" stroke-width="1.50" opacity="1"/>
<line x1="1480.3" y1="899.1" x2="1532.2" y2="869.1" stroke="#14260f" stroke-width="3.20" opacity="0.200"/>
<line x1="1480.3" y1="899.1" x2="1532.2" y2="869.1" stroke="#14260f" stroke-width="1.50" opacity="1"/>
<text x="1461.20" y="823.50" font-family='"Liberation Sans", sans-serif' font-size="20" font-weight="700" fill="#14260f" stroke="#14260f" stroke-width="0.45">V</text>
<polygon points="1480.20,809.20 1483.20,809.20 1483.20,823.50 1480.10,823.50 1480.10,812.90 1477.20,814.60 1477.20,811.70" fill="#14260f" stroke="#14260f" stroke-width="0.45"/>
<text x="1485.60" y="823.50" font-family='"Liberation Sans", sans-serif' font-size="20" font-weight="700" fill="#14260f" stroke="#14260f" stroke-width="0.45">.</text>
<polygon points="1496.50,809.20 1499.50,809.20 1499.50,823.50 1496.40,823.50 1496.40,812.90 1493.50,814.60 1493.50,811.70" fill="#14260f" stroke="#14260f" stroke-width="0.45"/>
<polygon points="1665.3,539.8 1711.8,511.2 1828.7,579.8 1830.7,632.7 1782.8,659.7 1665.3,589.8" fill="#fff" stroke="none"/>
<clipPath id="lbc"><polygon points="1782.8,605.8 1828.7,579.8 1830.7,632.7 1782.8,659.7"/></clipPath><g clip-path="url(#lbc)">
<line x1="1780.2" y1="646.7" x2="1798.4" y2="590.8" stroke="#1a1b1d" stroke-width="3.20" opacity="0.200"/>
<line x1="1780.2" y1="646.7" x2="1798.4" y2="590.8" stroke="#1a1b1d" stroke-width="1.50" opacity="1"/>
<line x1="1785.8" y1="670.9" x2="1813.8" y2="578.6" stroke="#1a1b1d" stroke-width="3.20" opacity="0.200"/>
<line x1="1785.8" y1="670.9" x2="1813.8" y2="578.6" stroke="#1a1b1d" stroke-width="1.50" opacity="1"/>
<line x1="1799.0" y1="663.9" x2="1825.5" y2="571.6" stroke="#1a1b1d" stroke-width="3.20" opacity="0.200"/>
<line x1="1799.0" y1="663.9" x2="1825.5" y2="571.6" stroke="#1a1b1d" stroke-width="1.50" opacity="1"/>
<line x1="1812.9" y1="652.5" x2="1832.5" y2="584.0" stroke="#1a1b1d" stroke-width="3.20" opacity="0.200"/>
<line x1="1812.9" y1="652.5" x2="1832.5" y2="584.0" stroke="#1a1b1d" stroke-width="1.50" opacity="1"/>
<line x1="1826.6" y1="639.2" x2="1832.9" y2="616.8" stroke="#1a1b1d" stroke-width="3.20" opacity="0.200"/>
<line x1="1826.6" y1="639.2" x2="1832.9" y2="616.8" stroke="#1a1b1d" stroke-width="1.50" opacity="1"/>
</g>
<line x1="1658.5" y1="544.0" x2="1718.6" y2="507.0" stroke="#1a1b1d" stroke-width="3.20" opacity="0.200"/>
<line x1="1658.5" y1="544.0" x2="1718.6" y2="507.0" stroke="#1a1b1d" stroke-width="1.50" opacity="1"/>
<line x1="1704.9" y1="507.2" x2="1831.3" y2="581.3" stroke="#1a1b1d" stroke-width="3.20" opacity="0.200"/>
<line x1="1704.9" y1="507.2" x2="1831.3" y2="581.3" stroke="#1a1b1d" stroke-width="1.50" opacity="1"/>
<line x1="1830.4" y1="578.8" x2="1782.8" y2="605.8" stroke="#1a1b1d" stroke-width="3.20" opacity="0.200"/>
<line x1="1830.4" y1="578.8" x2="1782.8" y2="605.8" stroke="#1a1b1d" stroke-width="1.50" opacity="1"/>
<line x1="1782.8" y1="605.8" x2="1658.3" y2="535.9" stroke="#1a1b1d" stroke-width="3.20" opacity="0.200"/>
<line x1="1782.8" y1="605.8" x2="1658.3" y2="535.9" stroke="#1a1b1d" stroke-width="1.50" opacity="1"/>
<line x1="1665.3" y1="539.8" x2="1665.3" y2="590.8" stroke="#1a1b1d" stroke-width="3.20" opacity="0.200"/>
<line x1="1665.3" y1="539.8" x2="1665.3" y2="590.8" stroke="#1a1b1d" stroke-width="1.50" opacity="1"/>
<line x1="1782.8" y1="605.8" x2="1782.8" y2="660.7" stroke="#1a1b1d" stroke-width="3.20" opacity="0.200"/>
<line x1="1782.8" y1="605.8" x2="1782.8" y2="660.7" stroke="#1a1b1d" stroke-width="1.50" opacity="1"/>
<line x1="1828.7" y1="579.8" x2="1830.7" y2="633.7" stroke="#1a1b1d" stroke-width="3.20" opacity="0.200"/>
<line x1="1828.7" y1="579.8" x2="1830.7" y2="633.7" stroke="#1a1b1d" stroke-width="1.50" opacity="1"/>
<line x1="1660.1" y1="586.7" x2="1785.4" y2="661.2" stroke="#1a1b1d" stroke-width="3.20" opacity="0.200"/>
<line x1="1660.1" y1="586.7" x2="1785.4" y2="661.2" stroke="#1a1b1d" stroke-width="1.50" opacity="1"/>
<line x1="1780.2" y1="661.2" x2="1836.8" y2="629.3" stroke="#1a1b1d" stroke-width="3.20" opacity="0.200"/>
<line x1="1780.2" y1="661.2" x2="1836.8" y2="629.3" stroke="#1a1b1d" stroke-width="1.50" opacity="1"/>
<line x1="1686.3" y1="579.4" x2="1574.0" y2="644.7" stroke="#55bbf4" stroke-width="3.25" opacity="0.200"/>
<line x1="1686.3" y1="579.4" x2="1574.0" y2="644.7" stroke="#55bbf4" stroke-width="1.55" opacity="1"/>
<line x1="1707.9" y1="591.2" x2="1596.0" y2="659.1" stroke="#55bbf4" stroke-width="3.25" opacity="0.200"/>
<line x1="1707.9" y1="591.2" x2="1596.0" y2="659.1" stroke="#55bbf4" stroke-width="1.55" opacity="1"/>
<line x1="1731.8" y1="604.8" x2="1620.0" y2="672.7" stroke="#55bbf4" stroke-width="3.25" opacity="0.200"/>
<line x1="1731.8" y1="604.8" x2="1620.0" y2="672.7" stroke="#55bbf4" stroke-width="1.55" opacity="1"/>
<line x1="1757.8" y1="620.7" x2="1648.0" y2="687.7" stroke="#7fd86a" stroke-width="3.25" opacity="0.200"/>
<line x1="1757.8" y1="620.7" x2="1648.0" y2="687.7" stroke="#7fd86a" stroke-width="1.55" opacity="1"/>
<polyline points="1613.9,608.8 1641.9,604.2 1628.9,625.7" fill="none" stroke="#55bbf4" stroke-width="2.80" opacity="0.200"/>
<polyline points="1613.9,608.8 1641.9,604.2 1628.9,625.7" fill="none" stroke="#55bbf4" stroke-width="1.10" opacity="1"/>
<polyline points="1634.9,624.7 1661.9,619.1 1647.9,643.7" fill="none" stroke="#55bbf4" stroke-width="2.80" opacity="0.200"/>
<polyline points="1634.9,624.7 1661.9,619.1 1647.9,643.7" fill="none" stroke="#55bbf4" stroke-width="1.10" opacity="1"/>
<line x1="1647.9" y1="643.7" x2="1640.5" y2="661.0" stroke="#55bbf4" stroke-width="2.75" opacity="0.140"/>
<line x1="1647.9" y1="643.7" x2="1640.5" y2="661.0" stroke="#55bbf4" stroke-width="1.05" opacity="0.7"/>
<polyline points="1685.9,619.7 1676.9,638.7 1700.9,636.7" fill="none" stroke="#55bbf4" stroke-width="2.80" opacity="0.200"/>
<polyline points="1685.9,619.7 1676.9,638.7 1700.9,636.7" fill="none" stroke="#55bbf4" stroke-width="1.10" opacity="1"/>
<polyline points="1648.9,643.0 1639.9,661.6 1663.9,659.1" fill="none" stroke="#55bbf4" stroke-width="2.75" opacity="0.140"/>
<polyline points="1648.9,643.0 1639.9,661.6 1663.9,659.1" fill="none" stroke="#55bbf4" stroke-width="1.05" opacity="0.7"/>
<polyline points="1712.8,636.7 1703.9,654.7 1726.8,652.7" fill="none" stroke="#7fd86a" stroke-width="2.80" opacity="0.200"/>
<polyline points="1712.8,636.7 1703.9,654.7 1726.8,652.7" fill="none" stroke="#7fd86a" stroke-width="1.10" opacity="1"/>
<polyline points="1674.9,658.7 1665.9,677.7 1689.9,675.7" fill="none" stroke="#7fd86a" stroke-width="2.80" opacity="0.200"/>
<polyline points="1674.9,658.7 1665.9,677.7 1689.9,675.7" fill="none" stroke="#7fd86a" stroke-width="1.10" opacity="1"/>
<circle cx="1686.3" cy="579.4" r="3.8" fill="#050708"/>
<circle cx="1707.9" cy="591.2" r="3.8" fill="#050708"/>
<circle cx="1731.8" cy="604.8" r="3.8" fill="#050708"/>
<circle cx="1757.8" cy="620.7" r="3.8" fill="#050708"/>
<path d="M140,185 L150,385 L240,350" fill="none" stroke="#0a0a0c" transform="translate(1670,370) scale(0.09158)" stroke-width="48" opacity="0.22"/>
<path d="M140,185 L150,385 L240,350" fill="none" stroke="#0a0a0c" transform="translate(1670,370) scale(0.09158)" stroke-width="28"/>
<path d="M305,268 a26,26 0 1 0 1,0 M330,300 Q370,300 400,310" fill="none" stroke="#0a0a0c" transform="translate(1670,370) scale(0.09158)" stroke-width="48" opacity="0.22"/>
<path d="M305,268 a26,26 0 1 0 1,0 M330,300 Q370,300 400,310" fill="none" stroke="#0a0a0c" transform="translate(1670,370) scale(0.09158)" stroke-width="28"/>
<path d="M468,298 a32,30 0 1 0 0,34 L472,285 Q482,335 540,325" fill="none" stroke="#0a0a0c" transform="translate(1670,370) scale(0.09158)" stroke-width="48" opacity="0.22"/>
<path d="M468,298 a32,30 0 1 0 0,34 L472,285 Q482,335 540,325" fill="none" stroke="#0a0a0c" transform="translate(1670,370) scale(0.09158)" stroke-width="28"/>
<path d="M628,288 a33,30 0 1 0 5,38 M615,120 L652,348" fill="none" stroke="#0a0a0c" transform="translate(1670,370) scale(0.09158)" stroke-width="48" opacity="0.22"/>
<path d="M628,288 a33,30 0 1 0 5,38 M615,120 L652,348" fill="none" stroke="#0a0a0c" transform="translate(1670,370) scale(0.09158)" stroke-width="28"/>
<path d="M860,215 L890,372 M835,215 Q930,150 995,140 Q1000,190 880,262 Q1030,240 1010,275 Q980,320 890,365" fill="none" stroke="#0a0a0c" transform="translate(1670,370) scale(0.09158)" stroke-width="48" opacity="0.22"/>
<path d="M860,215 L890,372 M835,215 Q930,150 995,140 Q1000,190 880,262 Q1030,240 1010,275 Q980,320 890,365" fill="none" stroke="#0a0a0c" transform="translate(1670,370) scale(0.09158)" stroke-width="28"/>
<path d="M1128,308 a30,28 0 1 0 0,32 L1133,296 Q1143,345 1200,340" fill="none" stroke="#0a0a0c" transform="translate(1670,370) scale(0.09158)" stroke-width="48" opacity="0.22"/>
<path d="M1128,308 a30,28 0 1 0 0,32 L1133,296 Q1143,345 1200,340" fill="none" stroke="#0a0a0c" transform="translate(1670,370) scale(0.09158)" stroke-width="28"/>
<path d="M1240,165 L1275,365" fill="none" stroke="#0a0a0c" transform="translate(1670,370) scale(0.09158)" stroke-width="48" opacity="0.22"/>
<path d="M1240,165 L1275,365" fill="none" stroke="#0a0a0c" transform="translate(1670,370) scale(0.09158)" stroke-width="28"/>
<path d="M1398,303 a30,28 0 1 0 0,32 L1403,292 Q1413,340 1455,335" fill="none" stroke="#0a0a0c" transform="translate(1670,370) scale(0.09158)" stroke-width="48" opacity="0.22"/>
<path d="M1398,303 a30,28 0 1 0 0,32 L1403,292 Q1413,340 1455,335" fill="none" stroke="#0a0a0c" transform="translate(1670,370) scale(0.09158)" stroke-width="28"/>
<path d="M1462,288 L1472,345 Q1500,288 1530,298 Q1550,308 1560,348 Q1590,335 1630,320" fill="none" stroke="#0a0a0c" transform="translate(1670,370) scale(0.09158)" stroke-width="48" opacity="0.22"/>
<path d="M1462,288 L1472,345 Q1500,288 1530,298 Q1550,308 1560,348 Q1590,335 1630,320" fill="none" stroke="#0a0a0c" transform="translate(1670,370) scale(0.09158)" stroke-width="28"/>
<path d="M1705,293 Q1640,276 1633,325 Q1650,362 1720,335 Q1750,328 1775,328" fill="none" stroke="#0a0a0c" transform="translate(1670,370) scale(0.09158)" stroke-width="48" opacity="0.22"/>
<path d="M1705,293 Q1640,276 1633,325 Q1650,362 1720,335 Q1750,328 1775,328" fill="none" stroke="#0a0a0c" transform="translate(1670,370) scale(0.09158)" stroke-width="28"/>
<path d="M1775,328 Q1852,325 1852,298 Q1800,278 1780,330 Q1800,367 1875,343" fill="none" stroke="#0a0a0c" transform="translate(1670,370) scale(0.09158)" stroke-width="48" opacity="0.22"/>
<path d="M1775,328 Q1852,325 1852,298 Q1800,278 1780,330 Q1800,367 1875,343" fill="none" stroke="#0a0a0c" transform="translate(1670,370) scale(0.09158)" stroke-width="28"/>
<path d="M1920,286 L1932,348 M1926,305 Q1950,268 1990,264" fill="none" stroke="#0a0a0c" transform="translate(1670,370) scale(0.09158)" stroke-width="48" opacity="0.22"/>
<path d="M1920,286 L1932,348 M1926,305 Q1950,268 1990,264" fill="none" stroke="#0a0a0c" transform="translate(1670,370) scale(0.09158)" stroke-width="28"/>
<path d="M1100,520 Q1150,600 1100,720 Q1050,800 960,880 Q880,960 905,1100" fill="none" stroke="#0a0a0c" transform="translate(1670,370) scale(0.09158)" stroke-width="36" opacity="0.22"/>
<path d="M1100,520 Q1150,600 1100,720 Q1050,800 960,880 Q880,960 905,1100" fill="none" stroke="#0a0a0c" transform="translate(1670,370) scale(0.09158)" stroke-width="16"/>
<path d="M840,1095 L1040,1140 L975,1300 Z M905,1100 L975,1300 M880,1125 L985,1250" fill="none" stroke="#0a0a0c" transform="translate(1670,370) scale(0.09158)" stroke-width="31" opacity="0.22"/>
<path d="M840,1095 L1040,1140 L975,1300 Z M905,1100 L975,1300 M880,1125 L985,1250" fill="none" stroke="#0a0a0c" transform="translate(1670,370) scale(0.09158)" stroke-width="11"/>
<path d="M840,1095 L1040,1140 L975,1300 Z" fill="#000" opacity="0.18" stroke="none" transform="translate(1670,370) scale(0.09158)"/>
</g>
<g>
<clipPath id="pbc"><rect x="1168" y="1003" width="784" height="37" rx="18.5"/></clipPath>
<g clip-path="url(#pbc)"><rect x="1168" y="1003" width="600.6" height="37" fill="#c9edfb"/><rect x="1768.6" y="1003" width="190" height="37" fill="#f7f6fa"/></g>
<rect x="1168" y="1003" width="784" height="37" rx="18.5" fill="none" stroke="#39434b" stroke-opacity="0.33" stroke-width="3.6"/>
<rect x="1168" y="1003" width="784" height="37" rx="18.5" fill="none" stroke="#454c53" stroke-width="1.7"/>
</g>
</svg>
</body></html>
